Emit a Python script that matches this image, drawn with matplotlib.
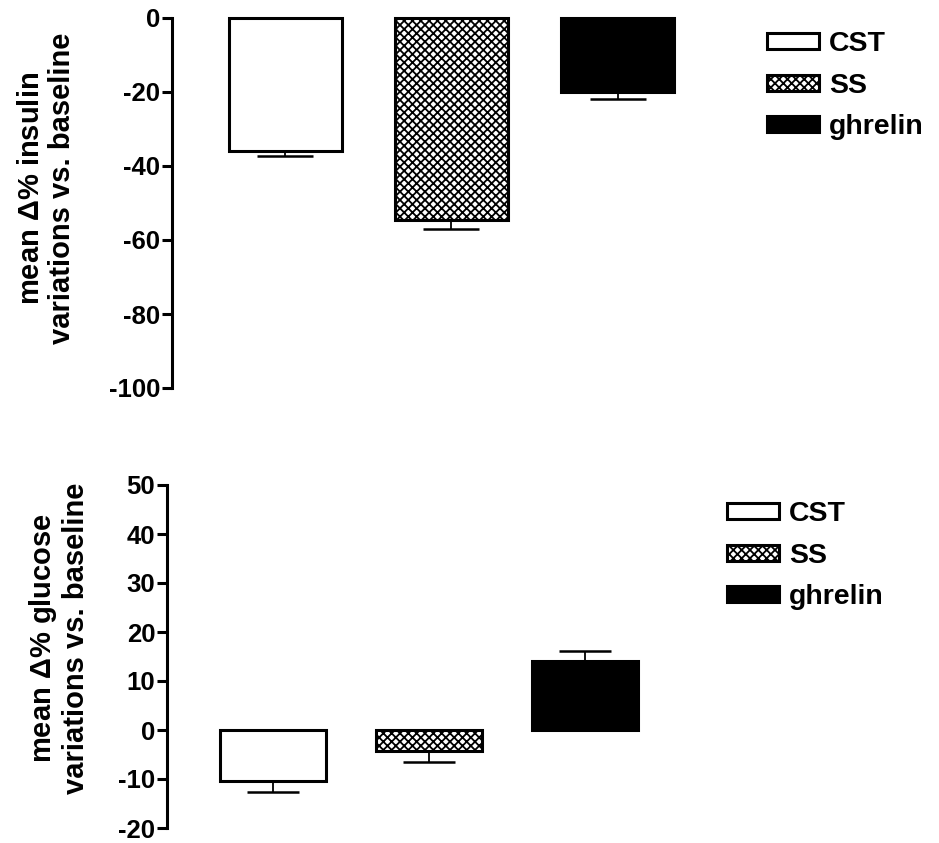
import matplotlib
matplotlib.use("Agg")
import matplotlib.pyplot as plt
import numpy as np

plt.rcParams["font.family"] = ["Liberation Sans", "DejaVu Sans"]
plt.rcParams["font.weight"] = "bold"
plt.rcParams["hatch.linewidth"] = 1.3
plt.rcParams["axes.unicode_minus"] = False
plt.rcParams["mathtext.fontset"] = "custom"
plt.rcParams["mathtext.rm"] = "Liberation Sans"

groups = ["CST", "SS", "ghrelin"]
insulin_mean = [-36.0, -54.6, -20.0]
insulin_err = [1.3, 2.4, 2.0]
glucose_mean = [-10.5, -4.3, 14.1]
glucose_err = [2.2, 2.3, 2.0]

faces = ["white", "white", "black"]
hatches = ["", "xxxx", ""]

W, H = 939, 843
fig = plt.figure(figsize=(W / 100, H / 100), dpi=100)


def panel(rect, means, errs, ylim, yticks, ylabel, label_xy, legend_xy, capsize):
    ax = fig.add_axes(rect)
    x = np.arange(len(groups))
    means = np.array(means)
    errs = np.array(errs)
    lower = np.where(means < 0, errs, 0)
    upper = np.where(means > 0, errs, 0)
    ax.errorbar(x, means, yerr=[lower, upper], fmt="none", ecolor="black",
                elinewidth=1.3, capsize=capsize, capthick=1.8, zorder=1)
    bars = ax.bar(x, means, width=0.68, color=faces, edgecolor="black",
                  linewidth=2.2, zorder=2, clip_on=False)
    for b, h in zip(bars, hatches):
        b.set_hatch(h)
    ax.set_xlim(-0.68, 2.5)
    ax.set_ylim(*ylim)
    ax.set_yticks(yticks)
    ax.set_xticks([])
    for s in ["top", "right", "bottom"]:
        ax.spines[s].set_visible(False)
    ax.spines["left"].set_linewidth(2.2)
    ax.tick_params(axis="y", length=7, width=2.2, pad=1.5, labelsize=18.5)
    for t in ax.get_yticklabels():
        t.set_fontweight("bold")
    fig.text(label_xy[0] / W, 1 - label_xy[1] / H, ylabel, rotation=90,
             ha="center", va="center", fontsize=21, fontweight="bold",
             linespacing=1.1)
    ax.legend(bars, groups, loc="upper left",
              bbox_to_anchor=(legend_xy[0] / W, 1 - legend_xy[1] / H),
              bbox_transform=fig.transFigure, frameon=False,
              prop={"weight": "bold", "size": 20.5},
              handlelength=1.83, handleheight=0.49, labelspacing=0.55,
              handletextpad=0.35, borderpad=0, borderaxespad=0)
    return ax


panel([172 / W, (H - 388) / H, 529 / W, 370 / H], insulin_mean, insulin_err,
      (-100, 0), [0, -20, -40, -60, -80, -100],
      "mean $\\mathrm{\\Delta}$% insulin\nvariations vs. baseline", (46.5, 188), (767, 31), 20)

panel([167 / W, (H - 828) / H, 496 / W, 343 / H], glucose_mean, glucose_err,
      (-20, 50), [50, 40, 30, 20, 10, 0, -10, -20],
      "mean $\\mathrm{\\Delta}$% glucose\nvariations vs. baseline", (58.5, 638), (727, 501), 19)

fig.savefig("out.png", dpi=100)
